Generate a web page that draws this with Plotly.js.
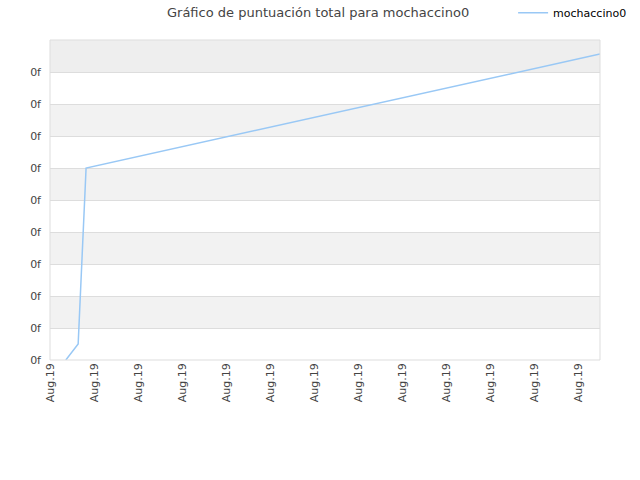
<!DOCTYPE html>
<html>
<head>
<meta charset="utf-8">
<script src="https://cdn.plot.ly/plotly-3.0.1.min.js"></script>
<style>
  html, body { margin: 0; padding: 0; background: #fff; }
  #chart { width: 640px; height: 480px; }
</style>
</head>
<body>
<div id="chart"></div>
<script>
// series (x in tick steps, y in grid steps)
const seriesName = "mochaccino0";
const xValues = [0.36, 0.64, 0.82, 12.5];
const yValues = [0, 0.5, 6, 9.56];

const xTickVals = [0, 1, 2, 3, 4, 5, 6, 7, 8, 9, 10, 11, 12];
const xTickText = xTickVals.map(() => "Aug.19");
const yTickVals = [0, 1, 2, 3, 4, 5, 6, 7, 8, 9];
const yTickText = yTickVals.map(() => "0f");

// alternating horizontal bands, the top one a touch darker
const bands = [];
[1, 3, 5, 7].forEach((v) => {
  bands.push({
    type: "rect", xref: "paper", yref: "y", x0: 0, x1: 1, y0: v, y1: v + 1,
    fillcolor: "#f2f2f2", line: { width: 0 }, layer: "below",
  });
});
bands.push({
  type: "rect", xref: "paper", yref: "y", x0: 0, x1: 1, y0: 9, y1: 10,
  fillcolor: "#eeeeee", line: { width: 0 }, layer: "below",
});
bands.push({
  type: "rect", xref: "paper", yref: "paper", x0: 0, x1: 1, y0: 0, y1: 1,
  line: { color: "#dddddd", width: 1 }, layer: "above",
});

const trace = {
  x: xValues,
  y: yValues,
  type: "scatter",
  mode: "lines",
  name: seriesName,
  line: { color: "#99c8f5", width: 1.5 },
};

const layout = {
  width: 640,
  height: 480,
  paper_bgcolor: "#fff",
  plot_bgcolor: "#fff",
  font: { family: "DejaVu Sans, Verdana, sans-serif", size: 11, color: "#444" },
  title: {
    text: "Gráfico de puntuación total para mochaccino0",
    font: { size: 13, color: "#444" },
    x: 0.497, xanchor: "center", y: 0.975, yanchor: "middle",
  },
  margin: { l: 50, r: 40, t: 40, b: 120, pad: 0, autoexpand: false },
  xaxis: {
    range: [0, 12.5],
    tickvals: xTickVals,
    ticktext: xTickText,
    tickangle: -90,
    showgrid: false,
    zeroline: false,
    showline: false,
    ticks: "",
    tickfont: { size: 11, color: "#444" },
    fixedrange: true,
  },
  yaxis: {
    range: [0, 10],
    tickvals: yTickVals,
    ticktext: yTickText,
    showgrid: true,
    gridcolor: "#dddddd",
    gridwidth: 1,
    zeroline: false,
    showline: false,
    ticks: "",
    ticklabelstandoff: 8,
    tickfont: { size: 11, color: "#444" },
    fixedrange: true,
  },
  shapes: bands,
  showlegend: true,
  legend: {
    x: 0.842, xanchor: "left", y: 1.085, yanchor: "middle",
    font: { size: 11, color: "#000" },
    bgcolor: "rgba(0,0,0,0)",
    itemwidth: 30,
  },
};

Plotly.newPlot("chart", [trace], layout, { displayModeBar: false, staticPlot: true });
</script>
</body>
</html>
